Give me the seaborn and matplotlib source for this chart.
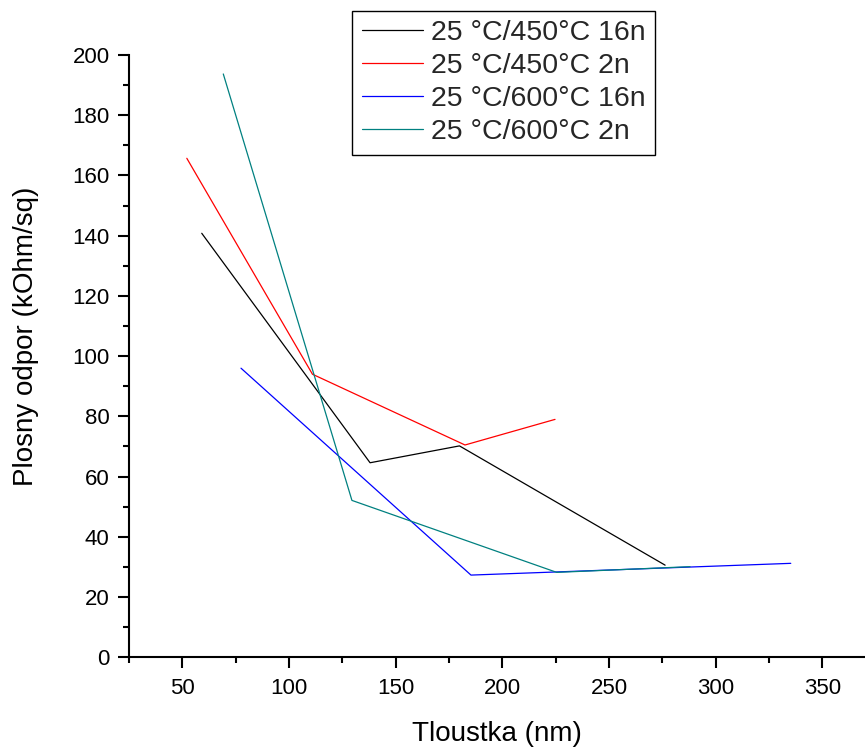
import matplotlib
matplotlib.use("Agg")
import matplotlib.pyplot as plt
import seaborn as sns
import pandas as pd
from matplotlib.ticker import MultipleLocator

# Data
x_450_16n = [59.1, 138.0, 179.9, 276.3]
y_450_16n = [140.8, 64.6, 70.2, 30.6]
x_450_2n = [52.1, 111.0, 182.5, 224.7]
y_450_2n = [165.7, 94.0, 70.5, 79.0]
x_600_16n = [77.5, 185.3, 335.2]
y_600_16n = [96.0, 27.3, 31.2]
x_600_2n = [69.2, 129.5, 225.5, 288.0]
y_600_2n = [193.7, 52.1, 28.2, 30.1]

labels = ["25 °C/450°C 16n", "25 °C/450°C 2n", "25 °C/600°C 16n", "25 °C/600°C 2n"]
colors = ["#000000", "#FF0000", "#0000FF", "#008080"]

frames = []
for lab, xs, ys in zip(labels,
                       [x_450_16n, x_450_2n, x_600_16n, x_600_2n],
                       [y_450_16n, y_450_2n, y_600_16n, y_600_2n]):
    frames.append(pd.DataFrame({"x": xs, "y": ys, "series": lab}))
df = pd.concat(frames, ignore_index=True)

sns.set_theme(style="ticks")
plt.rcParams['font.family'] = ['Liberation Sans', 'DejaVu Sans']

fig = plt.figure(figsize=(8.65, 7.47), dpi=100)
ax = fig.add_axes([129/865, 1-657.3/747, 1-129/865, (657.3-55)/747])

sns.lineplot(data=df, x="x", y="y", hue="series", hue_order=labels,
             palette=colors, sort=False, estimator=None, linewidth=0.9, ax=ax,
             legend=True)

ax.set_xlim(25, 370)
ax.set_ylim(0, 200)
ax.xaxis.set_major_locator(MultipleLocator(50))
ax.xaxis.set_minor_locator(MultipleLocator(25))
ax.yaxis.set_major_locator(MultipleLocator(20))
ax.yaxis.set_minor_locator(MultipleLocator(10))
ax.set_xticks([50, 100, 150, 200, 250, 300, 350])
ax.tick_params(which='major', direction='out', length=8, width=1.5, labelsize=16, color='black', labelcolor='black')
ax.tick_params(axis='x', which='major', pad=7)
ax.tick_params(axis='y', which='major', pad=6)
ax.tick_params(which='minor', direction='out', length=4, width=1.5, color='black')
for s in ['top', 'right']:
    ax.spines[s].set_visible(False)
for s in ['left', 'bottom']:
    ax.spines[s].set_linewidth(1.5)
    ax.spines[s].set_color('black')
ax.set_xlabel("Tloustka (nm)", fontsize=20, color='black', labelpad=16)
ax.set_ylabel("Plosny odpor (kOhm/sq)", fontsize=20, color='black')
ax.yaxis.set_label_coords(-0.122, 0.533)

h, l = ax.get_legend_handles_labels()
leg = ax.legend(h, l, loc='upper left', bbox_to_anchor=(352.3/865, 1-10.7/747),
                bbox_transform=fig.transFigure, borderaxespad=0, fontsize=20.5,
                frameon=True, fancybox=False, edgecolor='black', framealpha=1,
                handlelength=2.15, handletextpad=0.3, labelspacing=0.25,
                borderpad=0.33)
leg.get_frame().set_linewidth(1.0)
for line in leg.get_lines():
    line.set_linewidth(0.9)

fig.savefig("out.png", dpi=100)
